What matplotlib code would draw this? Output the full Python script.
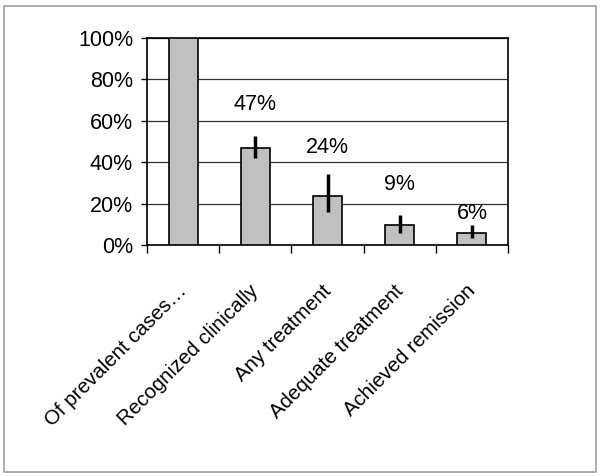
import matplotlib.pyplot as plt
import matplotlib.patches as mpatches
from matplotlib.transforms import ScaledTranslation
import numpy as np

# data
categories = ['Of prevalent cases…', 'Recognized clinically', 'Any treatment',
              'Adequate treatment', 'Achieved remission']
values = [100, 47, 23.5, 9.5, 6]
err_low = [0, 5, 7.4, 3.6, 2.5]
err_high = [0, 5.6, 10.6, 5.0, 3.7]
labels = ['', '47%', '24%', '9%', '6%']
label_y = [0, 68, 47, 29, 15]

plt.rcParams['font.family'] = ['Liberation Sans', 'DejaVu Sans']
fs = 15.5

fig = plt.figure(figsize=(6, 4.76), dpi=100)
ax = fig.add_axes([147/600, 1-245/476, (508-147)/600, (245-38)/476])

x = np.arange(len(categories))
ax.bar(x, values, width=0.4, color='#c0c0c0', edgecolor='black', linewidth=1.2, zorder=3)
ax.errorbar(x[1:], values[1:], yerr=[err_low[1:], err_high[1:]], fmt='none',
            ecolor='black', elinewidth=2.5, capsize=0, zorder=4)

for i in range(1, len(x)):
    ax.text(x[i], label_y[i], labels[i], ha='center', va='center', fontsize=fs)

ax.set_xlim(-0.5, len(x) - 0.5)
ax.set_ylim(0, 100)
ax.set_yticks([0, 20, 40, 60, 80, 100])
ax.set_yticklabels(['0%', '20%', '40%', '60%', '80%', '100%'], fontsize=fs)
ax.yaxis.grid(True, color='#333333', linewidth=0.9, zorder=0)
ax.tick_params(axis='y', direction='out', length=4, width=1, pad=6)

# ticks between categories, labels at centers
ax.set_xticks(np.arange(-0.5, len(x), 1), minor=False)
ax.set_xticklabels([])
ax.tick_params(axis='x', direction='out', length=6, width=1)
ax.set_xticks(x, minor=True)
ax.set_xticklabels(categories, minor=True, rotation=45, ha='right',
                   rotation_mode='anchor', fontsize=14.8)
ax.tick_params(axis='x', which='minor', length=0, pad=26)
shift = ScaledTranslation(-6/100, 0, fig.dpi_scale_trans)
for lab in ax.get_xticklabels(minor=True):
    lab.set_transform(lab.get_transform() + shift)

for s in ax.spines.values():
    s.set_linewidth(1.2)

# outer frame
fig.patches.append(mpatches.Rectangle((4/600, 4/476), 592/600, 466/476,
                                      transform=fig.transFigure, fill=False,
                                      edgecolor='#a0a0a0', linewidth=1.2))

fig.savefig('out.png', dpi=100)
